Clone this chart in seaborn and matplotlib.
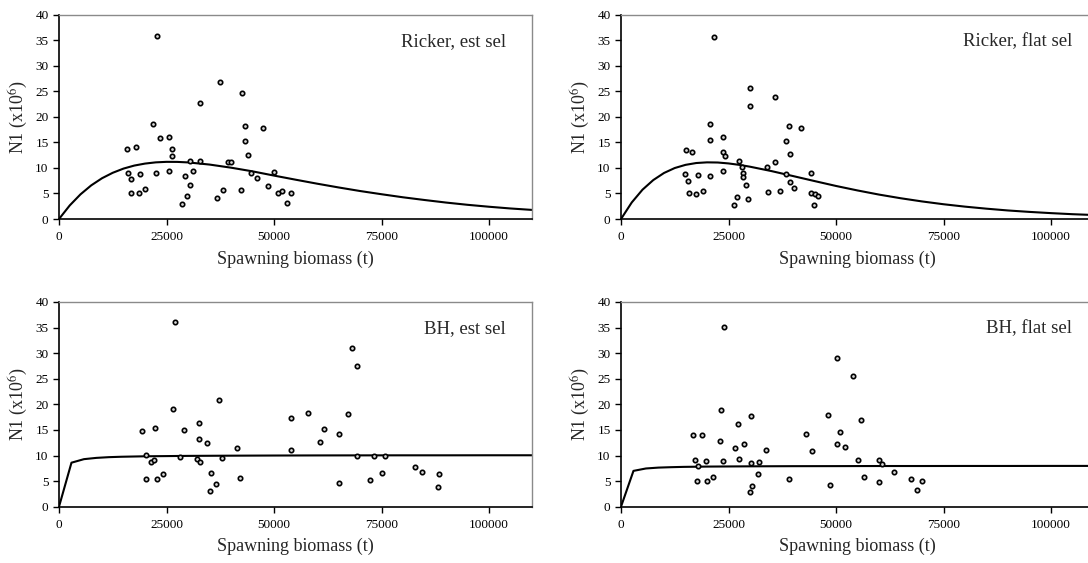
import matplotlib
matplotlib.use("Agg")
import matplotlib.pyplot as plt
import seaborn as sns
import pandas as pd

# ---------------- data ----------------
# Ricker, est sel : observations
ssb_obs_ricker_est = [15800, 16000, 16800, 16700, 17800, 18900, 18600, 20100, 21900, 22500,
                      22700, 23400, 25600, 25600, 26300, 26200, 28600, 29200, 29700, 30400,
                      30500, 31100, 32900, 32900, 36800, 37400, 38100, 39400, 39900, 42400,
                      42600, 43200, 43300, 44000, 44700, 46100, 47400, 48500, 50100, 50900,
                      51800, 53100, 53900]
n1_obs_ricker_est = [13.8, 9.1, 7.8, 5.1, 14.0, 8.8, 5.0, 5.8, 18.6, 9.0,
                     35.9, 15.9, 16.1, 9.4, 13.7, 12.4, 2.9, 8.4, 4.5, 6.6,
                     11.3, 9.4, 22.7, 11.4, 4.1, 26.8, 5.6, 11.2, 11.1, 5.6,
                     24.6, 18.2, 15.2, 12.6, 9.0, 8.0, 17.9, 6.4, 9.3, 5.0,
                     5.4, 3.1, 5.0]

# Ricker, flat sel : observations
ssb_obs_ricker_flat = [15000, 14800, 15500, 15800, 16400, 18000, 17500, 19100, 20700, 20800,
                       20700, 21600, 23800, 23800, 24100, 23800, 26200, 27000, 27500, 28100,
                       28400, 28300, 29100, 29600, 29900, 30100, 33900, 34300, 35700, 35900,
                       37000, 38300, 38400, 39100, 39400, 39400, 40200, 41900, 44200, 44300,
                       45000, 45700, 44800]
n1_obs_ricker_flat = [13.6, 8.8, 7.5, 5.0, 13.2, 8.7, 4.8, 5.5, 18.6, 15.4,
                      8.5, 35.7, 16.0, 13.2, 12.3, 9.4, 2.7, 4.4, 11.3, 10.1,
                      9.1, 8.3, 6.6, 4.0, 25.7, 22.1, 10.2, 5.3, 23.8, 11.1,
                      5.5, 15.2, 8.8, 18.3, 12.7, 7.3, 6.1, 17.8, 9.1, 5.0,
                      4.9, 4.6, 2.8]

# BH, est sel : observations
ssb_obs_bh_est = [19200, 20300, 20300, 21400, 22200, 22400, 22700, 24100, 26600, 26900,
                  28100, 29000, 32100, 32500, 32500, 32800, 34500, 35200, 35400, 36400,
                  37300, 37800, 41300, 42200, 54000, 54000, 57900, 60600, 61600, 65000,
                  65100, 67100, 68100, 69300, 69400, 72400, 73200, 75200, 75900, 82900,
                  84500, 88300, 88100]
n1_obs_bh_est = [14.7, 10.1, 5.5, 8.7, 9.1, 15.4, 5.5, 6.4, 19.0, 36.0,
                 9.8, 14.9, 9.4, 16.4, 13.2, 8.7, 12.4, 3.1, 6.6, 4.5,
                 20.8, 9.6, 11.5, 5.7, 17.3, 11.1, 18.4, 12.6, 15.2, 14.3,
                 4.7, 18.1, 31.1, 27.4, 9.9, 5.3, 10.0, 6.6, 10.0, 7.8,
                 6.8, 6.3, 3.8]

# BH, flat sel : observations
ssb_obs_bh_flat = [16700, 17200, 18000, 17700, 18900, 19700, 19900, 21400, 23200, 23100,
                   23800, 24000, 26600, 27300, 27400, 28600, 29900, 30300, 30200, 30400,
                   31900, 32100, 33800, 39100, 43100, 44400, 48200, 48500, 50300, 50200,
                   50900, 52000, 53900, 55200, 55700, 56400, 60100, 60800, 60100, 63600,
                   67500, 68800, 69900]
n1_obs_bh_flat = [14.1, 9.2, 7.9, 5.1, 14.0, 8.9, 5.0, 5.9, 18.8, 12.8,
                  8.9, 35.2, 11.5, 16.2, 9.3, 12.2, 2.8, 17.7, 8.5, 4.0,
                  6.4, 8.7, 11.1, 5.5, 14.3, 10.9, 17.9, 4.2, 29.0, 12.2,
                  14.6, 11.6, 25.6, 9.1, 16.9, 5.9, 9.1, 8.3, 4.8, 6.8,
                  5.5, 3.3, 5.1]

# fitted curves
ssb_fit_ricker = [0, 2500, 5000, 7500, 10000, 12500, 15000, 17500, 20000, 22500, 25000,
                  27500, 30000, 35000, 40000, 45000, 50000, 55000, 60000, 65000, 70000,
                  75000, 80000, 85000, 90000, 95000, 100000, 105000, 110000]
n1_fit_ricker_est = [0, 2.66, 4.83, 6.59, 7.98, 9.05, 9.87, 10.46, 10.85, 11.09, 11.19,
                     11.18, 11.08, 10.66, 10.05, 9.33, 8.50, 7.70, 6.92, 6.18, 5.48,
                     4.85, 4.25, 3.72, 3.22, 2.78, 2.40, 2.06, 1.78]
n1_fit_ricker_flat = [0, 3.24, 5.74, 7.62, 9.01, 9.98, 10.60, 10.96, 11.09, 11.06, 10.88,
                      10.60, 10.24, 9.38, 8.41, 7.43, 6.47, 5.59, 4.78, 4.07, 3.44,
                      2.89, 2.42, 2.02, 1.67, 1.39, 1.15, 0.94, 0.78]

ssb_fit_bh = [0, 2900, 5800, 8700, 11600, 14500, 20000, 30000, 40000, 50000, 60000,
              70000, 80000, 90000, 100000, 110000]
n1_fit_bh_est = [0, 8.60, 9.29, 9.54, 9.68, 9.76, 9.85, 9.93, 9.97, 10.00, 10.02,
                 10.03, 10.04, 10.04, 10.05, 10.05]
n1_fit_bh_flat = [0, 7.00, 7.47, 7.64, 7.72, 7.78, 7.84, 7.89, 7.92, 7.93, 7.95,
                  7.95, 7.96, 7.96, 7.97, 7.97]

panel_titles = ["Ricker, est sel", "Ricker, flat sel", "BH, est sel", "BH, flat sel"]
x_ticks = [0, 25000, 50000, 75000, 100000]
y_ticks = [0, 5, 10, 15, 20, 25, 30, 35, 40]
x_label = "Spawning biomass (t)"
y_label = "N1 (x10$^{6}$)"

# ---------------- style ----------------
sns.set_style("white")
plt.rcParams["font.family"] = ["Liberation Serif", "DejaVu Serif"]
plt.rcParams["mathtext.fontset"] = "stix"

W, H = 1088, 563
fig = plt.figure(figsize=(W / 100, H / 100), dpi=100)

# axes rectangles in pixels: (left, top, width, height)
rects = [(59, 14.7, 473, 204.3), (621, 14.7, 473, 204.3),
         (59, 302, 473, 204.7), (621, 302, 473, 204.7)]
title_x = [0.945, 0.954, 0.945, 0.954]

obs = [(ssb_obs_ricker_est, n1_obs_ricker_est),
       (ssb_obs_ricker_flat, n1_obs_ricker_flat),
       (ssb_obs_bh_est, n1_obs_bh_est),
       (ssb_obs_bh_flat, n1_obs_bh_flat)]
fits = [(ssb_fit_ricker, n1_fit_ricker_est),
        (ssb_fit_ricker, n1_fit_ricker_flat),
        (ssb_fit_bh, n1_fit_bh_est),
        (ssb_fit_bh, n1_fit_bh_flat)]

for i, (l, t, w, h) in enumerate(rects):
    ax = fig.add_axes([l / W, 1 - (t + h) / H, w / W, h / H])
    df_obs = pd.DataFrame({"ssb": obs[i][0], "n1": obs[i][1]})
    df_fit = pd.DataFrame({"ssb": fits[i][0], "n1": fits[i][1]})
    sns.lineplot(data=df_fit, x="ssb", y="n1", ax=ax, color="black", linewidth=1.5,
                 sort=False, estimator=None, zorder=2)
    sns.scatterplot(data=df_obs, x="ssb", y="n1", ax=ax, s=10, marker="o",
                    facecolor="#d8d8d8", edgecolor="black", linewidth=1.2, zorder=3)
    ax.set_xlim(0, 110000)
    ax.set_ylim(0, 40)
    ax.set_xticks(x_ticks)
    ax.set_xticklabels([str(v) for v in x_ticks])
    ax.set_yticks(y_ticks)
    ax.set_yticklabels([str(v) for v in y_ticks])
    ax.tick_params(axis="both", which="major", direction="out", length=4, width=1,
                   color="black", labelsize=9.5, labelcolor="black")
    ax.tick_params(axis="x", pad=5)
    ax.tick_params(axis="y", pad=3.5)
    ax.tick_params(bottom=True, left=True, top=False, right=False)
    for side in ["left", "bottom"]:
        ax.spines[side].set_color("black")
        ax.spines[side].set_linewidth(1.2)
    for side in ["top", "right"]:
        ax.spines[side].set_color("#8a8a8a")
        ax.spines[side].set_linewidth(1.0)
    ax.set_xlabel(x_label, fontsize=13, labelpad=5)
    ax.set_ylabel(y_label, fontsize=13, labelpad=4)
    ax.text(title_x[i], 0.87, panel_titles[i], transform=ax.transAxes,
            ha="right", va="center", fontsize=13.5)
    ax.grid(False)

fig.savefig("out.png", dpi=100)
